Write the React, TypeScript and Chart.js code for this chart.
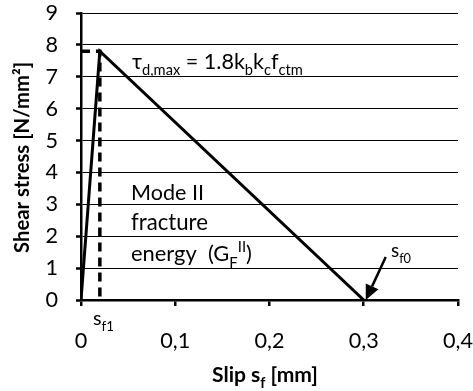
import React, { useEffect, useRef } from "react";
import { Chart, registerables } from "chart.js";

Chart.register(...registerables);

const slipMain = [0, 0.02, 0.3];
const stressMain = [0, 7.8, 0];
const slipDash = [0, 0.02, 0.02];
const stressDash = [7.8, 7.8, 0];
const xTicks = [0, 0.1, 0.2, 0.3, 0.4];
const yTicks = [0, 1, 2, 3, 4, 5, 6, 7, 8, 9];

const FONT = "Lato";

type Seg = { t: string; sub?: boolean; sup?: boolean };

function measure(ctx: CanvasRenderingContext2D, segs: Seg[], size: number, bold: boolean) {
  const w = bold ? "bold " : "";
  const small = size * 0.68;
  let total = 0;
  for (const s of segs) {
    ctx.font = `${w}${s.sub || s.sup ? small : size}px ${FONT}`;
    total += ctx.measureText(s.t).width;
  }
  return total;
}

function drawRich(
  ctx: CanvasRenderingContext2D,
  x: number,
  y: number,
  segs: Seg[],
  targetW: number,
  bold = false,
  align: "left" | "center" | "right" = "left"
) {
  const w = bold ? "bold " : "";
  const size = (20 * targetW) / measure(ctx, segs, 20, bold);
  const small = size * 0.68;
  const total = measure(ctx, segs, size, bold);
  let cx = align === "center" ? x - total / 2 : align === "right" ? x - total : x;
  ctx.textBaseline = "alphabetic";
  ctx.textAlign = "left";
  for (const s of segs) {
    ctx.font = `${w}${s.sub || s.sup ? small : size}px ${FONT}`;
    const dy = s.sub ? size * 0.3 : s.sup ? -size * 0.42 : 0;
    ctx.fillText(s.t, cx, y + dy);
    cx += ctx.measureText(s.t).width;
  }
}

const fmtX = (v: number) => String(Math.round(v * 10) / 10).replace(".", ",");

const annotPlugin = {
  id: "annot",
  afterDraw(chart: any) {
    const ctx = chart.ctx as CanvasRenderingContext2D;
    const xs = chart.scales.x;
    const ys = chart.scales.y;
    const ca = chart.chartArea;
    ctx.save();
    ctx.fillStyle = "#000";
    // tick labels
    ctx.font = `20px ${FONT}`;
    const digitScale = 30 / measure(ctx, [{ t: "0,1" }], 20, false);
    const tickSize = 20 * digitScale;
    ctx.font = `${tickSize}px ${FONT}`;
    ctx.textBaseline = "alphabetic";
    for (const v of xTicks) {
      ctx.textAlign = "center";
      ctx.fillText(fmtX(v), xs.getPixelForValue(v), ca.bottom + 48);
    }
    for (const v of yTicks) {
      ctx.textAlign = "right";
      ctx.fillText(String(v), 58, ys.getPixelForValue(v) + 7);
    }
    // tau text
    drawRich(ctx, 132, 69, [
      { t: "τ" }, { t: "d,max", sub: true }, { t: " = 1.8k" }, { t: "b", sub: true }, { t: "k" }, { t: "c", sub: true }, { t: "f" }, { t: "ctm", sub: true },
    ], 171);
    // Mode II text
    drawRich(ctx, 131, 200, [{ t: "Mode II" }], 73);
    drawRich(ctx, 131, 230, [{ t: "fracture" }], 77);
    drawRich(ctx, 131, 261, [{ t: "energy  (G" }, { t: "F", sub: true }, { t: "II", sup: true }, { t: ")" }], 121);
    // s_f0 label and arrow
    drawRich(ctx, 391, 257, [{ t: "s" }, { t: "f0", sub: true }], 20);
    const tx = xs.getPixelForValue(0.3) + 2;
    const ty = ys.getPixelForValue(0);
    const sx = tx + 20;
    const sy = ty - 43;
    const ang = Math.atan2(ty - sy, tx - sx);
    const hl = 15;
    const bx = tx - hl * Math.cos(ang);
    const by = ty - hl * Math.sin(ang);
    ctx.strokeStyle = "#000";
    ctx.lineWidth = 2.5;
    ctx.beginPath();
    ctx.moveTo(sx, sy);
    ctx.lineTo(bx, by);
    ctx.stroke();
    ctx.beginPath();
    ctx.moveTo(tx, ty);
    ctx.lineTo(bx + 7 * Math.sin(ang), by - 7 * Math.cos(ang));
    ctx.lineTo(bx - 7 * Math.sin(ang), by + 7 * Math.cos(ang));
    ctx.closePath();
    ctx.fill();
    // s_f1 label below axis
    drawRich(ctx, 93, 325, [{ t: "s" }, { t: "f1", sub: true }], 21);
    // axis titles
    drawRich(ctx, 212, 382, [{ t: "Slip s" }, { t: "f", sub: true }, { t: " [mm]" }], 106, true, "left");
    ctx.save();
    ctx.translate(29, 157.5);
    ctx.rotate(-Math.PI / 2);
    drawRich(ctx, 0, 0, [{ t: "Shear stress [N/mm²]" }], 191, true, "center");
    ctx.restore();
    ctx.restore();
  },
};

export default function App() {
  const ref = useRef<HTMLCanvasElement>(null);
  useEffect(() => {
    document.body.style.margin = "0";
    const mainData = slipMain.map((x, i) => ({ x, y: stressMain[i] }));
    const dashData = slipDash.map((x, i) => ({ x, y: stressDash[i] }));
    const chart = new Chart(ref.current!, {
      type: "scatter",
      data: {
        datasets: [
          { data: mainData as any, showLine: true, borderColor: "#000", borderWidth: 3, pointRadius: 0, tension: 0 },
          { data: dashData as any, showLine: true, borderColor: "#000", borderWidth: 3.5, borderDash: [9, 6], pointRadius: 0, tension: 0 },
        ],
      },
      options: {
        animation: false,
        responsive: false,
        maintainAspectRatio: false,
        layout: { padding: { top: 13, right: 15, left: 0, bottom: 0 } },
        plugins: { legend: { display: false }, tooltip: { enabled: false } },
        scales: {
          x: {
            type: "linear",
            min: 0,
            max: 0.4,
            afterBuildTicks: (s: any) => { s.ticks = xTicks.map((v) => ({ value: v })); },
            afterFit: (s: any) => { s.height = 91; s.paddingLeft = 0; s.paddingRight = 0; },
            border: { color: "#000", width: 2.5 },
            grid: { drawOnChartArea: false, color: "#000", lineWidth: 2.5, tickLength: 6 },
            ticks: { display: false },
          },
          y: {
            type: "linear",
            min: 0,
            max: 9,
            afterBuildTicks: (s: any) => { s.ticks = yTicks.map((v) => ({ value: v })); },
            afterFit: (s: any) => { s.width = 81; s.paddingTop = 0; s.paddingBottom = 0; },
            border: { color: "#000", width: 2.5 },
            grid: { color: "#000", lineWidth: 1, tickLength: 5, tickColor: "#000", tickWidth: 2.5 } as any,
            ticks: { display: false },
          },
        },
      },
      plugins: [annotPlugin],
    });
    return () => chart.destroy();
  }, []);
  return (
    <div style={{ width: 473, height: 391 }}>
      <canvas ref={ref} width={473} height={391} style={{ display: "block" }} />
    </div>
  );
}
